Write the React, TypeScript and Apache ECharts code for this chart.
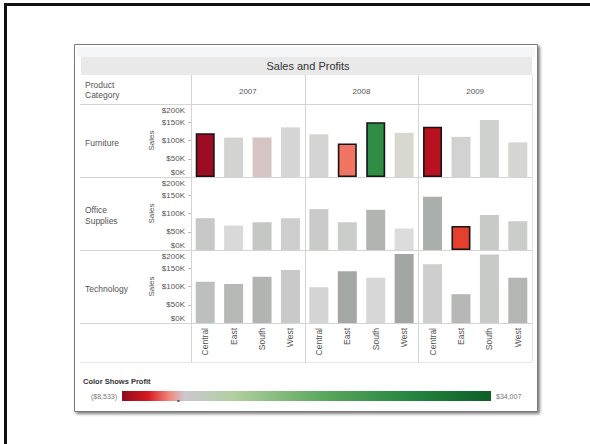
import React, { useEffect, useRef } from 'react';
import * as echarts from 'echarts';

// ---------- data ----------
const categories = ['Furniture', 'Office Supplies', 'Technology'];
const years = ['2007', '2008', '2009'];
const regions = ['Central', 'East', 'South', 'West'];

// Sales per region, one row per year
const furnitureSales = [
  [120000, 108000, 108000, 136000],
  [117000, 92000, 150000, 121000],
  [138000, 110000, 156000, 95000],
];
const officeSuppliesSales = [
  [87000, 67000, 76000, 87000],
  [112000, 76000, 110000, 59000],
  [146000, 66000, 96000, 79000],
];
const technologySales = [
  [113000, 107000, 127000, 145000],
  [98000, 142000, 124000, 189000],
  [161000, 79000, 188000, 124000],
];
const salesTicks = [0, 50000, 100000, 150000, 200000];
const profitMin = -8533;
const profitMax = 34007;

// ---------- styles ----------
const furnitureColors = [
  ['#9e0c24', '#d3d4d1', '#d7c5c6', '#d6d6d4'],
  ['#d4d5d2', '#f27462', '#2f8c45', '#d8d8d1'],
  ['#b8111f', '#d2d3d0', '#cfd1ce', '#d6d6d3'],
];
const officeSuppliesColors = [
  ['#c6c9c6', '#d9d9d9', '#c4c7c4', '#cdcecd'],
  ['#c9cbc9', '#cbcdcb', '#b1b5b2', '#dcdcdc'],
  ['#a9afab', '#e5402d', '#c8cac8', '#cbcdcb'],
];
const technologyColors = [
  ['#bcc0bd', '#b6b9b6', '#b1b4b1', '#c8cac8'],
  ['#d3d4d3', '#a4a8a5', '#d7d7d7', '#a2a7a3'],
  ['#cdcfcd', '#b5b8b5', '#c7cac7', '#b3b6b3'],
];
// outlined (selected) marks: [category, year, region]
const outlined = [
  [0, 0, 0],
  [0, 1, 1],
  [0, 1, 2],
  [0, 2, 0],
  [1, 2, 1],
];

const salesByCategory = [furnitureSales, officeSuppliesSales, technologySales];
const colorsByCategory = [furnitureColors, officeSuppliesColors, technologyColors];

const FONT = '"Liberation Sans", Arial, sans-serif';
const TXT = '#555';
const LINE = '#d4d4d4';

const PANE_X0 = 191;
const PANE_X1 = 532;
const COL_W = (PANE_X1 - PANE_X0) / 3;
const ROW_Y0 = 104;
const ROW_H = 73;
const LEFT = 80;

function money(v: number) {
  const s = '$' + Math.abs(v).toLocaleString('en-US');
  return v < 0 ? '(' + s + ')' : s;
}

function wrapLabel(s: string) {
  return s.length > 10 ? s.replace(' ', '\n') : s;
}

export default function App() {
  const ref = useRef<HTMLDivElement>(null);

  useEffect(() => {
    if (!ref.current) return;
    const chart = echarts.init(ref.current, undefined, { renderer: 'svg' });

    const grid: any[] = [];
    const xAxis: any[] = [];
    const yAxis: any[] = [];
    const series: any[] = [];

    categories.forEach((cat, r) => {
      years.forEach((yr, c) => {
        const idx = grid.length;
        grid.push({
          left: PANE_X0 + c * COL_W,
          top: ROW_Y0 + r * ROW_H,
          width: COL_W,
          height: ROW_H,
          containLabel: false,
        });
        xAxis.push({
          type: 'category',
          gridIndex: idx,
          data: regions,
          axisLine: { show: false },
          axisTick: { show: false },
          axisLabel: {
            show: r === categories.length - 1,
            rotate: 90,
            interval: 0,
            fontSize: 8.5,
            color: TXT,
            fontFamily: FONT,
            margin: 5,
          },
        });
        yAxis.push({
          type: 'value',
          gridIndex: idx,
          min: salesTicks[0],
          max: salesTicks[salesTicks.length - 1],
          interval: salesTicks[1] - salesTicks[0],
          splitLine: { show: false },
          axisLine: { show: false },
          axisTick: { show: c === 0, length: 3, lineStyle: { color: '#bbb' } },
          axisLabel: {
            show: c === 0,
            fontSize: 8,
            color: TXT,
            fontFamily: FONT,
            margin: 6,
            formatter: (v: number) => {
              const s = '$' + v / 1000 + 'K';
              if (v === salesTicks[0]) return '{lo|' + s + '}';
              if (v === salesTicks[salesTicks.length - 1]) return '{hi|' + s + '}';
              return s;
            },
            rich: {
              lo: { padding: [0, 0, 10, 0], fontSize: 8, color: TXT, fontFamily: FONT },
              hi: { padding: [12, 0, 0, 0], fontSize: 8, color: TXT, fontFamily: FONT },
            },
          },
          name: c === 0 ? 'Sales' : '',
          nameLocation: 'middle',
          nameRotate: 90,
          nameGap: 36,
          nameTextStyle: { fontSize: 8, color: TXT, fontFamily: FONT },
        });
        series.push({
          type: 'bar',
          xAxisIndex: idx,
          yAxisIndex: idx,
          barWidth: 19,
          data: salesByCategory[r][c].map((v, k) => {
            const sel = outlined.some((o) => o[0] === r && o[1] === c && o[2] === k);
            return {
              value: v,
              itemStyle: {
                color: colorsByCategory[r][c][k],
                borderColor: sel ? '#151515' : 'transparent',
                borderWidth: sel ? 1.6 : 0,
              },
            };
          }),
        });
      });
    });

    const graphic: any[] = [];
    // outer frame (cropped)
    graphic.push({ type: 'line', z: 1, shape: { x1: 5.5, y1: 3, x2: 5.5, y2: 444 }, style: { stroke: '#111', lineWidth: 3 } });
    graphic.push({ type: 'line', z: 1, shape: { x1: 4, y1: 4.5, x2: 590, y2: 4.5 }, style: { stroke: '#111', lineWidth: 3 } });
    // card
    graphic.push({
      type: 'rect', z: -10,
      shape: { x: 74.5, y: 44.5, width: 463, height: 367 },
      style: { fill: '#fff', stroke: '#7a7a7a', lineWidth: 1, shadowBlur: 3, shadowOffsetX: 2, shadowOffsetY: 2, shadowColor: 'rgba(0,0,0,0.5)' },
    });
    graphic.push({ type: 'rect', z: -9, shape: { x: 77, y: 47, width: 458, height: 10 }, style: { fill: '#f4f6f8' } });
    // title band
    graphic.push({ type: 'rect', z: -9, shape: { x: 81, y: 57, width: 451, height: 18 }, style: { fill: '#e9e9ea' } });
    graphic.push({
      type: 'text', z: 3, x: (LEFT + PANE_X1) / 2 + 2, y: 66,
      style: { text: 'Sales and Profits', fontSize: 11, fill: '#333', fontFamily: FONT, textAlign: 'center', textVerticalAlign: 'middle' },
    });
    // header
    graphic.push({
      type: 'text', z: 3, x: 85, y: 90,
      style: { text: 'Product\nCategory', fontSize: 8.5, lineHeight: 10, fill: TXT, fontFamily: FONT, textAlign: 'left', textVerticalAlign: 'middle' },
    });
    years.forEach((yr, c) => {
      graphic.push({
        type: 'text', z: 3, x: PANE_X0 + (c + 0.5) * COL_W, y: 91,
        style: { text: yr, fontSize: 8, fill: TXT, fontFamily: FONT, textAlign: 'center', textVerticalAlign: 'middle' },
      });
    });
    categories.forEach((cat, r) => {
      graphic.push({
        type: 'text', z: 3, x: 85, y: ROW_Y0 + r * ROW_H + ROW_H / 2 + 2,
        style: { text: wrapLabel(cat), fontSize: 8.5, lineHeight: 11, fill: TXT, fontFamily: FONT, textAlign: 'left', textVerticalAlign: 'middle' },
      });
    });
    // dividers
    const hLines = [ROW_Y0, ROW_Y0 + ROW_H, ROW_Y0 + 2 * ROW_H, ROW_Y0 + 3 * ROW_H];
    hLines.forEach((y) => {
      graphic.push({ type: 'line', z: 1, shape: { x1: LEFT, y1: y + 0.5, x2: PANE_X1, y2: y + 0.5 }, style: { stroke: LINE, lineWidth: 1 } });
    });
    graphic.push({ type: 'line', z: 1, shape: { x1: LEFT, y1: 362.5, x2: PANE_X1, y2: 362.5 }, style: { stroke: '#e6e6e6', lineWidth: 1 } });
    for (let c = 0; c <= 3; c++) {
      const x = Math.round(PANE_X0 + c * COL_W) + 0.5;
      graphic.push({ type: 'line', z: 1, shape: { x1: x, y1: 75, x2: x, y2: 362 }, style: { stroke: c === 3 ? '#e4e4e4' : LINE, lineWidth: 1 } });
    }
    // legend
    graphic.push({
      type: 'text', z: 3, x: 83, y: 381,
      style: { text: 'Color Shows Profit', fontSize: 7.5, fontWeight: 'bold', fill: '#333', fontFamily: FONT, textAlign: 'left', textVerticalAlign: 'middle' },
    });
    const gx = 122, gw = 369, gy = 391, gh = 10;
    graphic.push({
      type: 'rect', z: 3, shape: { x: gx, y: gy, width: gw, height: gh },
      style: {
        fill: new echarts.graphic.LinearGradient(0, 0, 1, 0, [
          { offset: 0, color: '#8f0a20' },
          { offset: 0.07, color: '#d51a1f' },
          { offset: 0.13, color: '#f28a7e' },
          { offset: 0.17, color: '#cbc7d1' },
          { offset: 0.3, color: '#b2cfa0' },
          { offset: 0.55, color: '#5aa75d' },
          { offset: 0.78, color: '#268640' },
          { offset: 1, color: '#0d5e27' },
        ]),
      },
    });
    graphic.push({ type: 'rect', z: 3, shape: { x: gx + gw * 0.15, y: gy + gh - 1, width: 2, height: 2 }, style: { fill: '#555' } });
    graphic.push({
      type: 'text', z: 3, x: gx - 5, y: gy + gh / 2,
      style: { text: money(profitMin), fontSize: 7, fill: '#777', fontFamily: FONT, textAlign: 'right', textVerticalAlign: 'middle' },
    });
    graphic.push({
      type: 'text', z: 3, x: gx + gw + 5, y: gy + gh / 2,
      style: { text: money(profitMax), fontSize: 7, fill: '#777', fontFamily: FONT, textAlign: 'left', textVerticalAlign: 'middle' },
    });

    chart.setOption({
      animation: false,
      backgroundColor: '#fff',
      grid,
      xAxis,
      yAxis,
      series,
      graphic,
    });

    return () => chart.dispose();
  }, []);

  return (
    <div style={{ position: 'fixed', left: 0, top: 0, width: 590, height: 444, background: '#fff' }}>
      <div ref={ref} style={{ width: 590, height: 444 }} />
    </div>
  );
}
